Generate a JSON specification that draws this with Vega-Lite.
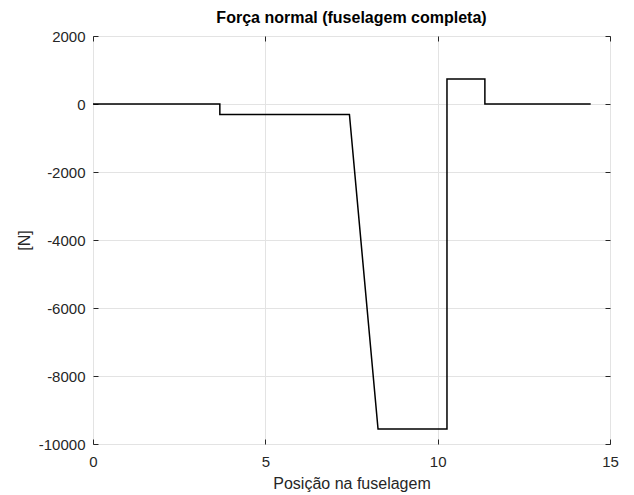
{
  "$schema": "https://vega.github.io/schema/vega-lite/v6.json",
  "width": 517,
  "height": 408,
  "autosize": {"type": "none"},
  "padding": {"left": 93, "top": 36, "right": 24, "bottom": 51},
  "background": "white",
  "title": {
    "text": "Força normal (fuselagem completa)",
    "font": "Liberation Sans",
    "fontSize": 16,
    "fontWeight": "bold",
    "color": "#000000",
    "offset": 3,
    "anchor": "middle"
  },
  "config": {
    "view": {"stroke": "#262626", "strokeWidth": 1},
    "axis": {
      "labelFont": "Liberation Sans",
      "titleFont": "Liberation Sans",
      "labelFontSize": 15,
      "titleFontSize": 16,
      "titleFontWeight": "normal",
      "labelColor": "#262626",
      "titleColor": "#262626",
      "gridColor": "#e3e3e3",
      "gridWidth": 1,
      "domain": false,
      "tickColor": "#262626",
      "labelExpr": "datum.value + ''"
    }
  },
  "data": {
    "values": [
      {"i": 0, "x": 0, "y": 0},
      {"i": 1, "x": 3.68, "y": 0},
      {"i": 2, "x": 3.68, "y": -310},
      {"i": 3, "x": 7.44, "y": -310},
      {"i": 4, "x": 8.27, "y": -9560},
      {"i": 5, "x": 10.27, "y": -9560},
      {"i": 6, "x": 10.27, "y": 737},
      {"i": 7, "x": 11.37, "y": 737},
      {"i": 8, "x": 11.37, "y": 0},
      {"i": 9, "x": 14.44, "y": 0}
    ]
  },
  "resolve": {"axis": {"x": "independent", "y": "independent"}},
  "layer": [
    {
      "mark": {"type": "line", "color": "#000000", "strokeWidth": 1.5},
      "encoding": {
        "order": {"field": "i", "type": "quantitative"},
        "x": {
          "field": "x",
          "type": "quantitative",
          "scale": {"domain": [0, 15], "nice": false, "zero": false},
          "axis": {"orient": "bottom", "values": [0, 5, 10, 15], "title": "Posição na fuselagem", "ticks": false, "labelPadding": 10, "titlePadding": 6, "labelFlush": false}
        },
        "y": {
          "field": "y",
          "type": "quantitative",
          "scale": {"domain": [-10000, 2000], "nice": false, "zero": false},
          "axis": {"orient": "left", "values": [-10000, -8000, -6000, -4000, -2000, 0, 2000], "title": "[N]", "ticks": false, "labelPadding": 8, "titlePadding": 6, "labelFlush": false}
        }
      }
    },
    {
      "mark": {"type": "line", "color": "#000000", "strokeWidth": 1.5, "opacity": 0},
      "encoding": {
        "order": {"field": "i", "type": "quantitative"},
        "x": {
          "field": "x",
          "type": "quantitative",
          "axis": {"orient": "bottom", "values": [0, 5, 10, 15], "title": null, "labels": false, "grid": false, "tickSize": 5, "offset": -5}
        },
        "y": {
          "field": "y",
          "type": "quantitative",
          "axis": {"orient": "left", "values": [-10000, -8000, -6000, -4000, -2000, 0, 2000], "title": null, "labels": false, "grid": false, "tickSize": 5, "offset": -5}
        }
      }
    },
    {
      "mark": {"type": "line", "color": "#000000", "strokeWidth": 1.5, "opacity": 0},
      "encoding": {
        "order": {"field": "i", "type": "quantitative"},
        "x": {
          "field": "x",
          "type": "quantitative",
          "axis": {"orient": "top", "values": [0, 5, 10, 15], "title": null, "labels": false, "grid": false, "tickSize": 5, "offset": -5}
        },
        "y": {
          "field": "y",
          "type": "quantitative",
          "axis": {"orient": "right", "values": [-10000, -8000, -6000, -4000, -2000, 0, 2000], "title": null, "labels": false, "grid": false, "tickSize": 5, "offset": -5}
        }
      }
    }
  ]
}
